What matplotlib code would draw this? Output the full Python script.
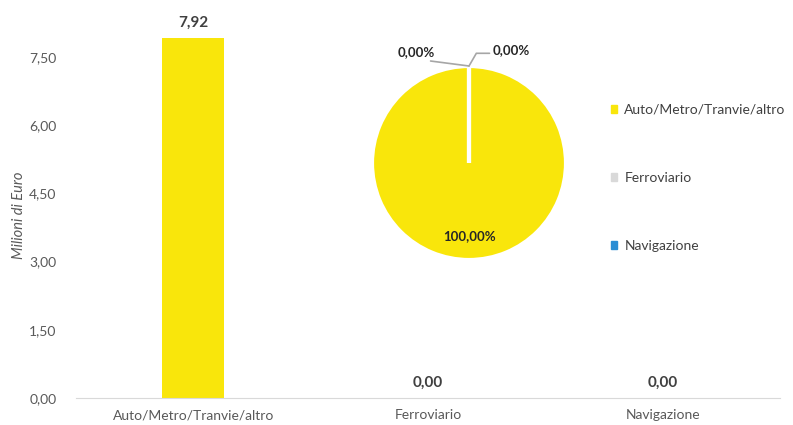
import matplotlib
matplotlib.use("Agg")
import matplotlib.pyplot as plt
from matplotlib.patches import Patch

plt.rcParams['font.family'] = ['Lato', 'DejaVu Sans']

categorie = ["Auto/Metro/Tranvie/altro", "Ferroviario", "Navigazione"]
valori = [7.92, 0.00, 0.00]
quote = [100.0, 0.0, 0.0]
colori = ["#F9E60B", "#D9D9D9", "#2A8DD4"]
yticks = [0, 1.5, 3.0, 4.5, 6.0, 7.5]

def virgola(v, dec=2):
    return f"{v:.{dec}f}".replace(".", ",")

fig = plt.figure(figsize=(7.93, 4.25), dpi=100)
ax = fig.add_axes([76/793, 1 - 398/425, 704/793, 389/425])

x = range(len(categorie))
ax.bar(x, valori, width=0.265, color=colori[0])
for i, v in enumerate(valori):
    ax.text(i, v + 0.17, virgola(v), ha="center", va="bottom",
            fontsize=11, fontweight="bold", color="#404040")

ax.set_xlim(-0.5, 2.5)
ax.set_ylim(0, 389/45.5)
ax.set_yticks(yticks)
ax.set_yticklabels([virgola(t) for t in yticks])
ax.set_xticks(list(x))
ax.set_xticklabels(categorie)
ax.tick_params(length=0, labelsize=10, colors="#595959", pad=8)
ax.tick_params(axis="y", pad=14)
for s in ["top", "right", "left"]:
    ax.spines[s].set_visible(False)
ax.spines["bottom"].set_color("#D9D9D9")
ax.set_ylabel("Milioni di Euro", style="italic", fontsize=10.5, color="#595959")
ax.yaxis.set_label_coords(-50/704, 0.47)

# torta
r = 97
pax = fig.add_axes([(469 - r)/793, 1 - (163 + r)/425, 2*r/793, 2*r/425])
pax.pie(quote, colors=colori, startangle=90, counterclock=False,
        wedgeprops=dict(edgecolor="white", linewidth=3))
pax.set_xlim(-1, 1)
pax.set_ylim(-1, 1)
pax.set_aspect("auto")
pax.text(0, -0.75, virgola(quote[0]) + "%", ha="center", va="center",
         fontsize=9.5, fontweight="bold", color="#262626")
pax.annotate(virgola(quote[1]) + "%", xy=(0, 1.0), xytext=(-0.54, 1.08),
             ha="center", va="bottom", fontsize=9.5, fontweight="bold", color="#262626",
             arrowprops=dict(arrowstyle="-", color="#A6A6A6", lw=1.2,
                             shrinkA=0, shrinkB=0, relpos=(0.3, 0)),
             annotation_clip=False)
pax.annotate(virgola(quote[2]) + "%", xy=(0, 1.0), xytext=(0.24, 1.1),
             ha="left", va="bottom", fontsize=9.5, fontweight="bold", color="#262626",
             arrowprops=dict(arrowstyle="-", color="#A6A6A6", lw=1.2,
                             shrinkA=0, shrinkB=0, relpos=(0, 0.25),
                             connectionstyle="angle,angleA=180,angleB=60,rad=0"),
             annotation_clip=False)

handles = [Patch(color=c) for c in colori]
fig.legend(handles, categorie, loc="upper left", bbox_to_anchor=(598/793, 1 - 91/425),
           frameon=False, fontsize=10, labelcolor="#404040",
           handlelength=0.5, handleheight=0.5, handletextpad=0.5, labelspacing=4.05)

fig.savefig("out.png", dpi=100)
